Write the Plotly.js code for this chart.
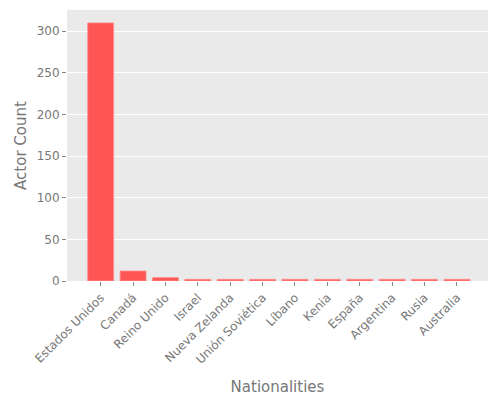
<!DOCTYPE html>
<html>
<head>
<meta charset="utf-8">
<script src="https://cdn.plot.ly/plotly-3.0.1.min.js"></script>
<style>
  html, body { margin: 0; padding: 0; background: #fff; }
  #chart { width: 500px; height: 400px; }
</style>
</head>
<body>
<div id="chart"></div>
<script>
var nationalities = ['Estados Unidos', 'Canadá', 'Reino Unido', 'Israel', 'Nueva Zelanda',
  'Unión Soviética', 'Líbano', 'Kenia', 'España', 'Argentina', 'Rusia', 'Australia'];
var actorCounts = [310, 12, 4, 2, 2, 2, 2, 2, 2, 2, 2, 2];

var positions = nationalities.map(function(_, i) { return i; });

var textColor = '#777777';

var trace = {
  type: 'bar',
  x: positions,
  y: actorCounts,
  width: 0.8,
  marker: {
    color: '#ff5555',
    line: { color: '#ff8a8a', width: 0.8 }
  },
  hoverinfo: 'y'
};

var layout = {
  width: 500,
  height: 400,
  margin: { l: 67, r: 12, t: 10, b: 119 },
  paper_bgcolor: '#ffffff',
  plot_bgcolor: '#eaeaea',
  font: { family: 'DejaVu Sans, sans-serif', color: textColor, size: 12 },
  showlegend: false,
  bargap: 0,
  xaxis: {
    range: [-1.04, 11.96],
    tickmode: 'array',
    tickvals: positions,
    ticktext: nationalities,
    tickangle: -45,
    ticks: 'outside',
    ticklen: 4,
    tickwidth: 1,
    tickcolor: '#888888',
    showgrid: false,
    zeroline: false,
    showline: false,
    tickfont: { size: 12, color: textColor },
    title: { text: 'Nationalities', font: { size: 15, color: textColor }, standoff: 15 }
  },
  yaxis: {
    range: [0, 325.5],
    tickvals: [0, 50, 100, 150, 200, 250, 300],
    ticks: 'outside',
    ticklen: 4,
    tickwidth: 1,
    tickcolor: '#888888',
    gridcolor: '#ffffff',
    gridwidth: 1,
    zeroline: false,
    showline: false,
    tickfont: { size: 12, color: textColor },
    title: { text: 'Actor Count', font: { size: 15, color: textColor }, standoff: 6 }
  }
};

Plotly.newPlot('chart', [trace], layout, { displayModeBar: false, staticPlot: true });
</script>
</body>
</html>
